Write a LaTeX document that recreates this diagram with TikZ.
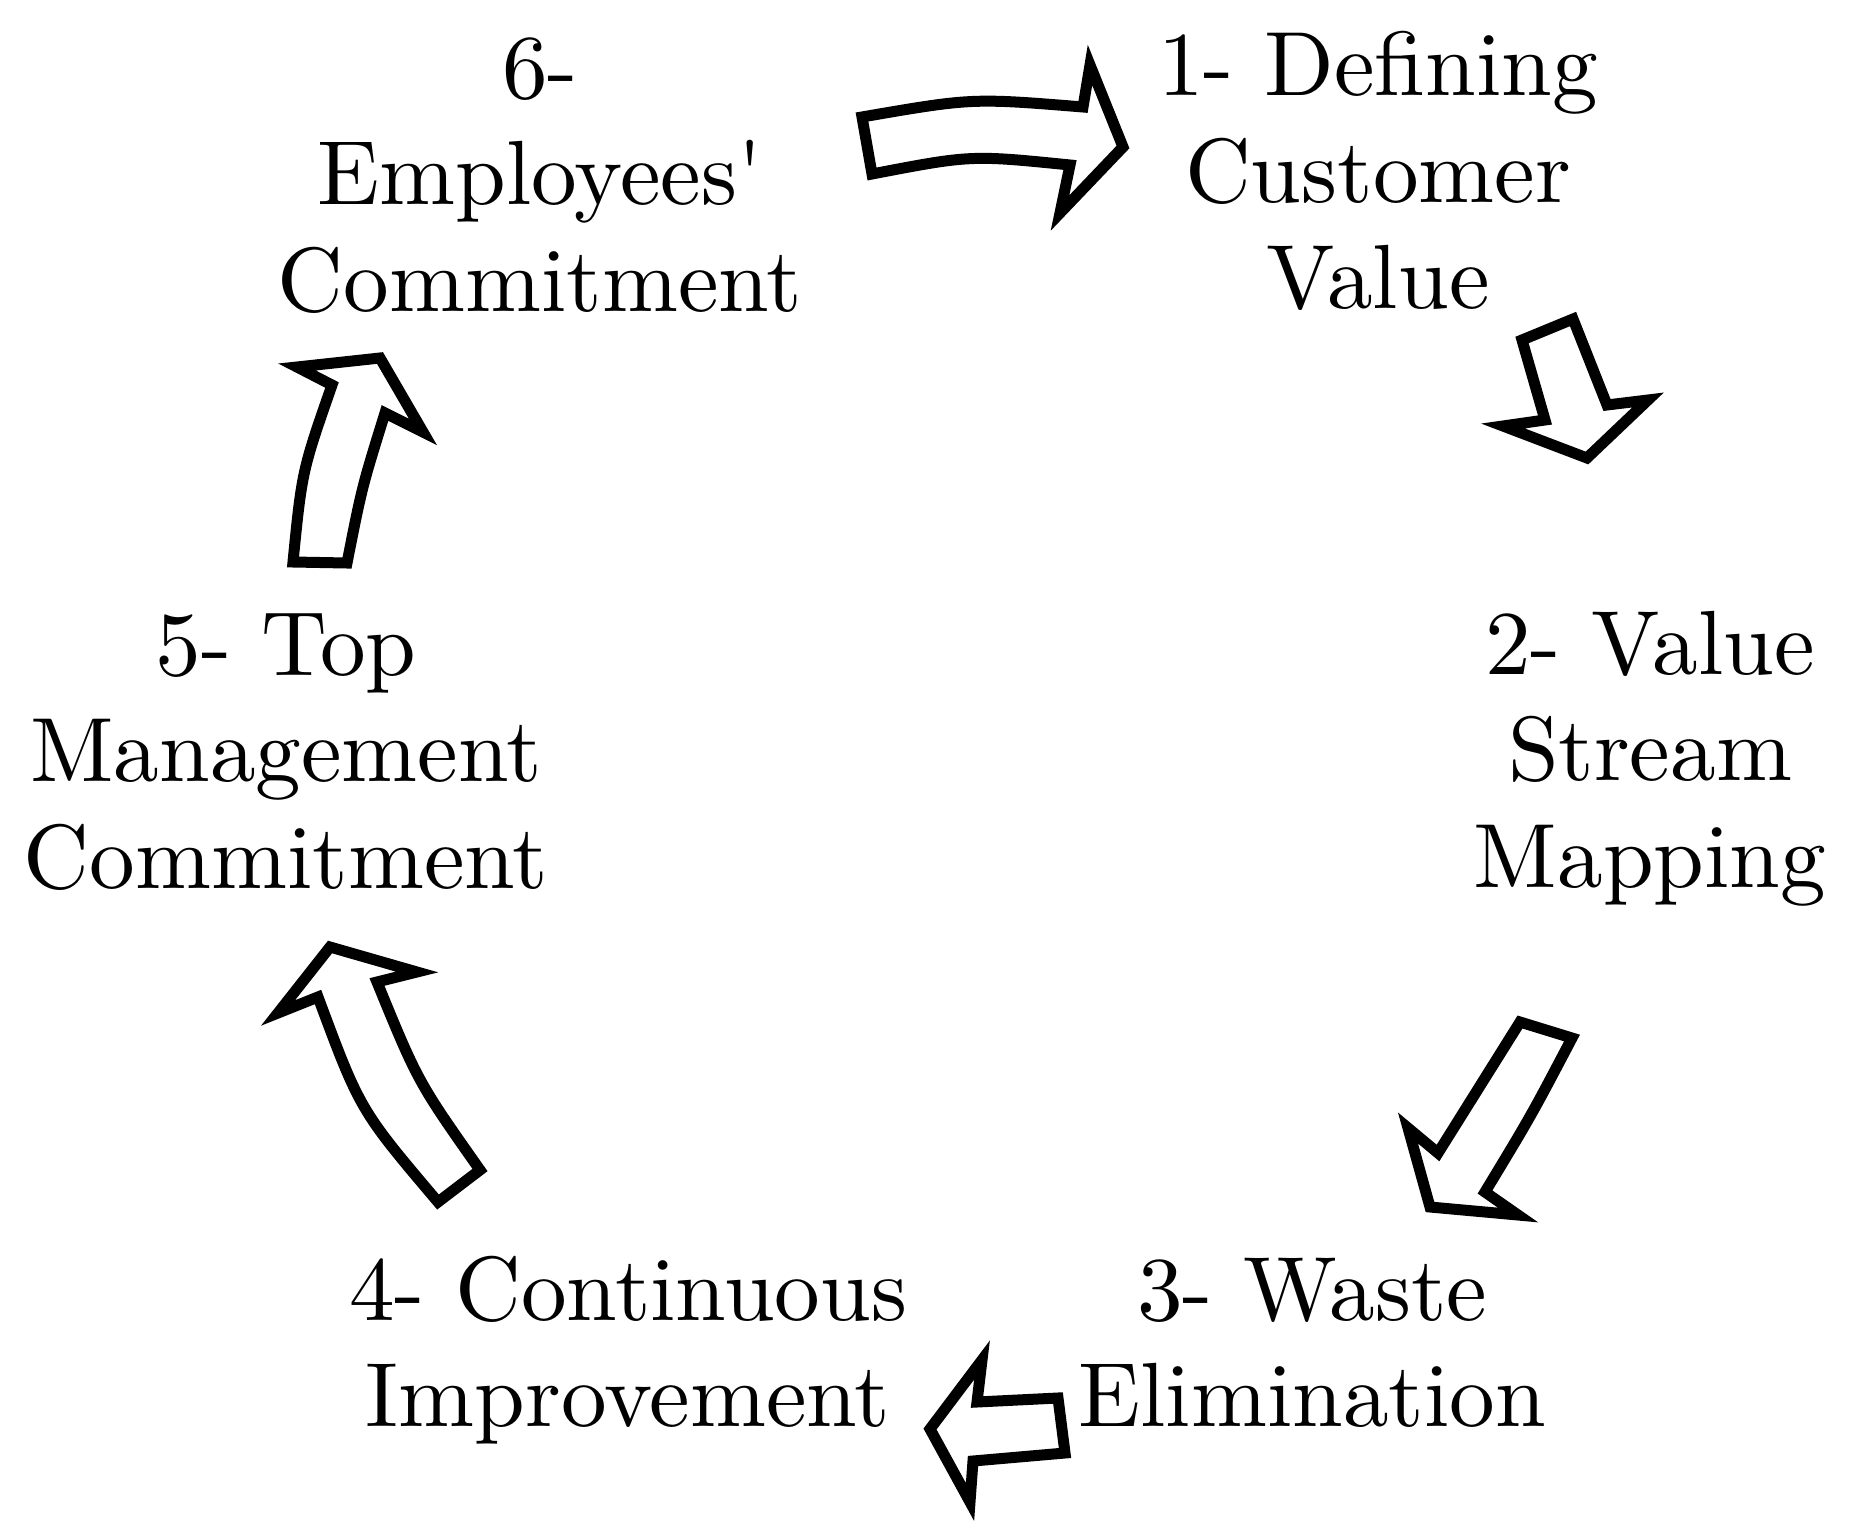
\documentclass[tikz,border=0pt]{standalone}
\usepackage{fontspec}
\setmainfont{lmroman10-regular.otf}
\begin{document}
\begin{tikzpicture}[x=0.5pt,y=-0.5pt,
  lbl/.style={anchor=base,inner sep=0pt,font=\fontsize{45.6}{53.25}\selectfont},
  blockarrow/.style={draw=black,fill=white,line width=5.5pt,line join=miter}]
\useasboundingbox (0,0) rectangle (1852,1536);
\fill[white] (0,0) rectangle (1852,1536);
% labels
\node[lbl] (L6) at (540,98) {\begin{tabular}[t]{@{}c@{}}6-\\Employees\textquotesingle\\Commitment\end{tabular}};
\node[lbl] (L1) at (1378,96) {\begin{tabular}[t]{@{}c@{}}1- Defining\\Customer\\Value\end{tabular}};
\node[lbl] (L2) at (1650,674) {\begin{tabular}[t]{@{}c@{}}2- Value\\Stream\\Mapping\end{tabular}};
\node[lbl] (L3) at (1312,1320) {\begin{tabular}[t]{@{}c@{}}3- Waste\\Elimination\end{tabular}};
\node[lbl] (L4) at (628,1320) {\begin{tabular}[t]{@{}c@{}}4- Continuous\\Improvement\end{tabular}};
\node[lbl] (L5) at (286,675) {\begin{tabular}[t]{@{}c@{}}5- Top\\Management\\Commitment\end{tabular}};
% arrow 6 -> 1
\draw[blockarrow] (862,117) .. controls (972,98) .. (1083,107) -- (1090,65) -- (1123,147)
  -- (1060,213) -- (1070,165) .. controls (971,155) .. (872,174) -- cycle;
% arrow 1 -> 2
\draw[blockarrow] (1522,340) -- (1573,319) -- (1607,405) -- (1648,400) -- (1587,458)
  -- (1503,426) -- (1545,420) -- cycle;
% arrow 2 -> 3
\draw[blockarrow] (1520,1022) -- (1572,1038) .. controls (1531,1116) .. (1485,1192) -- (1518,1215)
  -- (1430,1207) -- (1408,1128) -- (1438,1153) -- cycle;
% arrow 3 -> 4
\draw[blockarrow] (1058,1398) -- (1065,1453) -- (973,1461) -- (970,1502) -- (930,1429)
  -- (982,1360) -- (977,1402) -- cycle;
% arrow 4 -> 5
\draw[blockarrow] (438,1202) -- (480,1170) .. controls (418,1082) .. (377,982) -- (417,972)
  -- (330,947) -- (278,1013) -- (318,997) .. controls (360,1110) .. (438,1202) -- cycle;
% arrow 5 -> 6
\draw[blockarrow] (293,562) -- (347,563) .. controls (362,487) .. (385,413) -- (423,432)
  -- (380,358) -- (297,367) -- (332,385) .. controls (302,471) .. (293,562) -- cycle;
\end{tikzpicture}
\end{document}
